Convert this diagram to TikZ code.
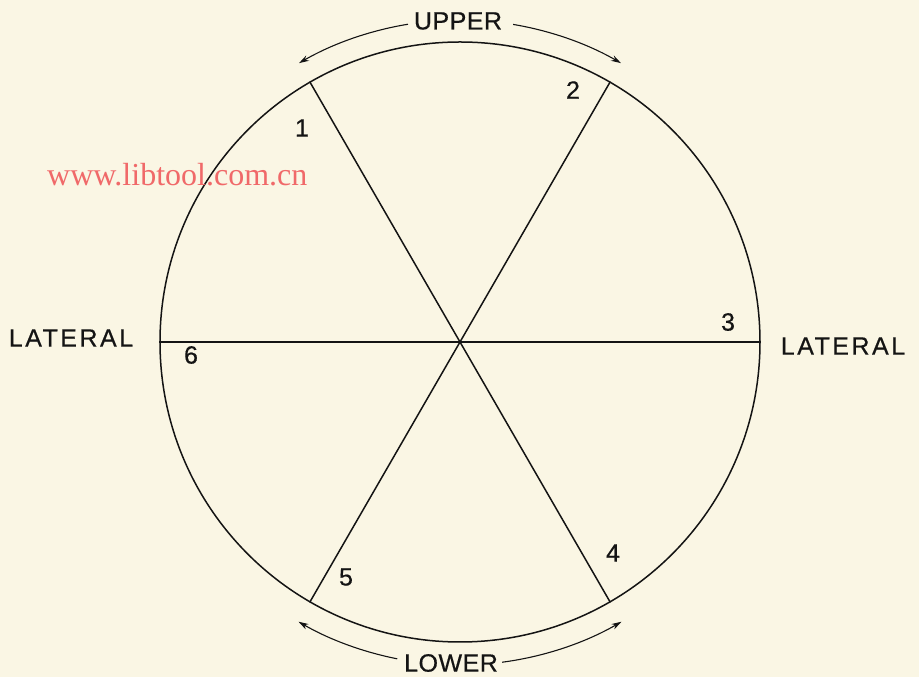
\documentclass[tikz,border=0pt]{standalone}
\usepackage{fontspec}
\setmainfont{Liberation Sans}
\newfontfamily\wmfont{Liberation Serif}
\usetikzlibrary{arrows.meta}
\definecolor{paper}{RGB}{250,246,228}
\definecolor{wm}{RGB}{240,105,105}
\begin{document}
\begin{tikzpicture}[x=1pt,y=1pt,
  lblbase/.style={inner sep=0pt, text=black!92},
  lbl/.style={lblbase, font=\fontsize{25}{25}\selectfont\addfontfeature{LetterSpace=2,FakeBold=0.5}},
  lbllat/.style={lblbase, font=\fontsize{25}{25}\selectfont\addfontfeature{LetterSpace=10,FakeBold=0.5}},
  num/.style={lblbase, font=\fontsize{25}{25}\selectfont\addfontfeature{FakeBold=0.5}},
  ring/.style={line width=1.5pt, black!92},
  arr/.style={line width=1.1pt, black!92, -{Stealth[length=10pt,width=6pt]}}]
\fill[paper] (0,0) rectangle (919,677);
\useasboundingbox (0,0) rectangle (919,677);
\node[draw=black!92, circle, minimum size=600pt, inner sep=0pt, line width=1.5pt] (c) at (460,335) {};
\draw[ring] (c.120) -- (c.-60);
\draw[ring] (c.60) -- (c.240);
\draw[ring] (c.180) -- (c.0);
% arcs with arrows
\draw[arr] ([shift={(99.3:322)}]c.center) arc[start angle=99.3, end angle=120, radius=322];
\draw[arr] ([shift={(80.5:322)}]c.center) arc[start angle=80.5, end angle=60, radius=322];
\draw[arr] ([shift={(258.8:323)}]c.center) arc[start angle=258.8, end angle=240, radius=323];
\draw[arr] ([shift={(277.5:323)}]c.center) arc[start angle=277.5, end angle=300, radius=323];
% labels
\node[lbl] (upper) at (458,656) {UPPER};
\node[lbl] (lower) at (451,14) {LOWER};
\node[lbllat] (latl) at (71,339) {LATERAL};
\node[lbllat] (latr) at (843,331) {LATERAL};
% numbers
\node[num] (n1) at (302,549) {1};
\node[num] (n2) at (573,587) {2};
\node[num] (n3) at (728,355) {3};
\node[num] (n4) at (613,124) {4};
\node[num] (n5) at (346,100) {5};
\node[num] (n6) at (191,322) {6};
% watermark
\node[anchor=base west, inner sep=0pt, text=wm, font=\wmfont\fontsize{32}{32}\selectfont] (wmk) at (47,491) {www.libtool.com.cn};
\end{tikzpicture}
\end{document}
